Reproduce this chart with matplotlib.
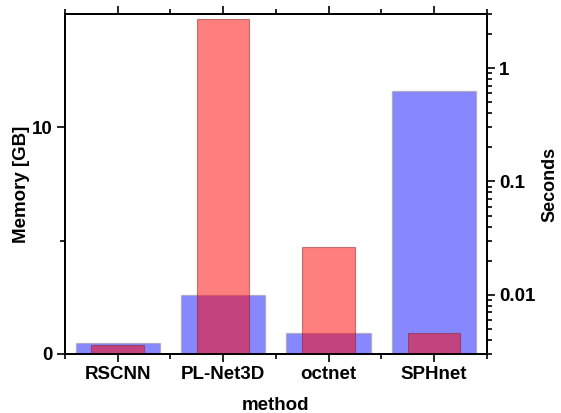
import matplotlib
matplotlib.use("Agg")
from matplotlib import pyplot as plt
from matplotlib.ticker import FixedLocator, LogLocator, NullFormatter
import numpy as np

plt.rcParams['font.family'] = ['Liberation Sans', 'DejaVu Sans']
plt.rcParams['font.weight'] = 'bold'

methods = ["RSCNN", "PL-Net3D", "octnet", "SPHnet"]
memory_gb = [0.47, 2.6, 0.91, 11.6]
seconds = [0.0036, 2.72, 0.0266, 0.0046]

x = np.arange(len(methods))
fs = 13.5

fig = plt.figure(figsize=(5.61, 4.13), dpi=100)
ax1 = fig.add_axes([0.1159, 0.1429, 0.7516, 0.8231])
ax2 = ax1.twinx()

ax1.bar(x, memory_gb, width=0.8, color=(0, 0, 1, 0.47),
        edgecolor=(0.6, 0.6, 0.6, 0.5), linewidth=1)
ax2.bar(x, seconds, width=0.5, bottom=1e-5, color=(1, 0, 0, 0.5),
        edgecolor=(0.55, 0.1, 0.1, 0.5), linewidth=0.8)

ax1.set_xlim(-0.5, 3.5)
ax1.set_ylim(0, 15)
ax2.set_yscale('log')
ax2.set_ylim(0.003, 3)

ax1.set_xticks(x)
ax1.set_xticklabels(methods, fontsize=fs, fontweight='bold')
ax1.xaxis.set_minor_locator(FixedLocator([-0.5, 0.5, 1.5, 2.5, 3.5]))
ax1.set_yticks([0, 10])
ax1.set_yticklabels(["0", "10"], fontsize=fs, fontweight='bold')
ax1.yaxis.set_minor_locator(FixedLocator([5]))

ax2.yaxis.set_major_locator(FixedLocator([0.01, 0.1, 1]))
ax2.set_yticklabels(["0.01", "0.1", "1"], fontsize=fs, fontweight='bold')
ax2.yaxis.set_minor_locator(LogLocator(base=10, subs=np.arange(2, 10)))
ax2.yaxis.set_minor_formatter(NullFormatter())

ax1.tick_params(axis='both', which='major', direction='out', length=6, width=1.2, top=True, pad=3)
ax1.tick_params(axis='both', which='minor', direction='out', length=3.5, width=1.2, top=True)
ax2.tick_params(axis='y', which='major', direction='out', length=6, width=1.2, pad=3)
ax2.tick_params(axis='y', which='minor', direction='out', length=3.5, width=1.2)

for ax in (ax1, ax2):
    for s in ax.spines.values():
        s.set_linewidth(1.3)

ax1.set_ylabel("Memory [GB]", fontsize=fs, fontweight='bold', labelpad=1)
ax1.set_xlabel("method", fontsize=fs, fontweight='bold', labelpad=10)
ax2.set_ylabel("Seconds", fontsize=13, fontweight='bold', labelpad=4)

fig.savefig("out.png", dpi=100)
